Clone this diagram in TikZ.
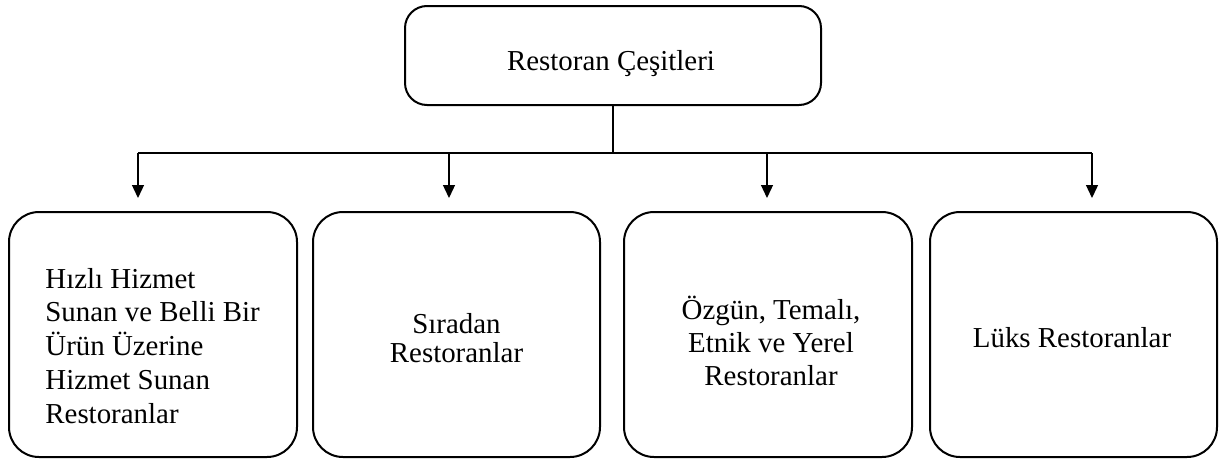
\documentclass[tikz,border=0pt]{standalone}
\usepackage{fontspec}
\setmainfont{Liberation Serif}
\usetikzlibrary{arrows.meta}

\begin{document}
\begin{tikzpicture}[
  x=0.5pt, y=-0.5pt,
  card/.style={draw=black, line width=1pt, rounded corners=15pt, inner sep=0pt},
  headcard/.style={draw=black, line width=1pt, rounded corners=11pt, inner sep=0pt},
  lbl/.style={inner sep=0pt, font=\fontsize{14.45}{16.85}\selectfont},
  conn/.style={draw=black, line width=0.65pt},
  arr/.style={conn, -{Triangle[length=6.5pt,width=6pt]}}
]
\useasboundingbox (0,0) rectangle (1219,461);

% top box
\node[headcard, minimum width=208pt, minimum height=49.5pt] (root) at (613,55.5) {};
\node[lbl, anchor=base] (rootT) at (611,70) {Restoran Çeşitleri};

% category boxes
\node[card, minimum width=144pt,   minimum height=122.5pt] (b1) at (153,334.5) {};
\node[card, minimum width=143.5pt, minimum height=122.5pt] (b2) at (456.5,334.5) {};
\node[card, minimum width=144pt,   minimum height=122.5pt] (b3) at (768,334.5) {};
\node[card, minimum width=143.5pt, minimum height=122.5pt] (b4) at (1073.5,334.5) {};

% labels (multi-line nodes: base anchor sits on the last line)
\node[lbl, anchor=base west, align=left] (t1) at (45,423)
  {Hızlı Hizmet\\Sunan ve Belli Bir\\Ürün Üzerine\\Hizmet Sunan\\Restoranlar};
\node[lbl, anchor=base, align=center, font=\fontsize{14.45}{14.5}\selectfont] (t2) at (456.5,362)
  {Sıradan\\Restoranlar};
\node[lbl, anchor=base, align=center, font=\fontsize{14.45}{16.5}\selectfont] (t3) at (771,385)
  {Özgün, Temalı,\\Etnik ve Yerel\\Restoranlar};
\node[lbl, anchor=base] (t4) at (1072,347) {Lüks Restoranlar};

% connector tree
\coordinate (bus) at (613,153);
\coordinate (h1) at (138,153);
\coordinate (h2) at (449,153);
\coordinate (h3) at (767,153);
\coordinate (h4) at (1092,153);
\coordinate (e1) at (138,198);
\coordinate (e2) at (449,198);
\coordinate (e3) at (767,198);
\coordinate (e4) at (1092,198);

\draw[conn] (root.south) -- (bus);
\draw[conn] (h1) -- (h4);
\draw[arr] (h1) -- (e1);
\draw[arr] (h2) -- (e2);
\draw[arr] (h3) -- (e3);
\draw[arr] (h4) -- (e4);
\end{tikzpicture}
\end{document}
